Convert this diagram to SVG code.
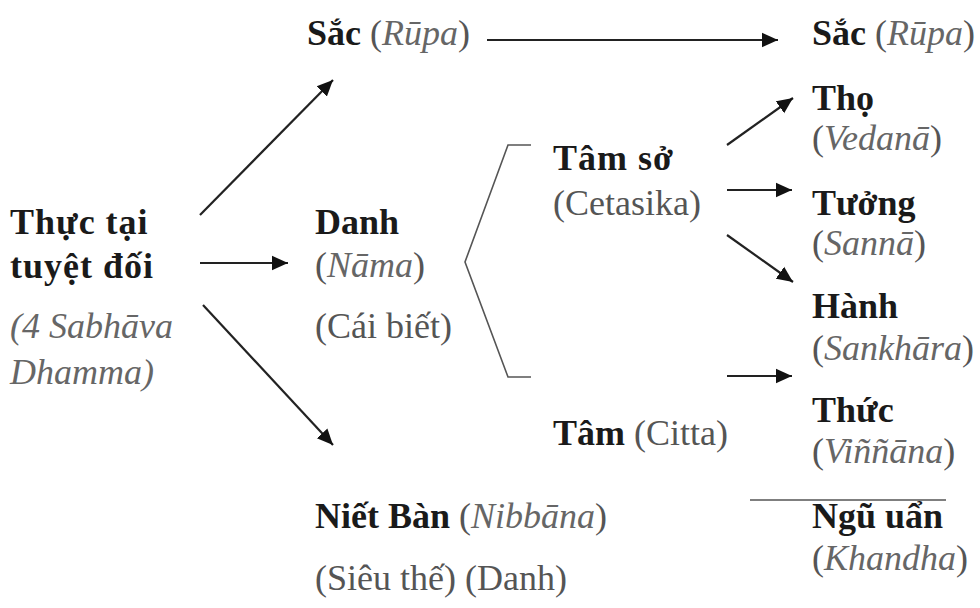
<svg xmlns="http://www.w3.org/2000/svg" width="980" height="608" viewBox="0 0 980 608">
<defs>
<style>
.t{fill:#555}
.b{font-weight:bold;fill:#1a1a1a}
.i{font-style:italic;fill:#666}
.c{stroke:#222;stroke-width:2.2;fill:none}
.thin{stroke:#555;stroke-width:1.6;fill:none}
</style>
<marker id="ah2" viewBox="0 0 10 10" refX="10" refY="5" markerWidth="16" markerHeight="16" markerUnits="userSpaceOnUse" orient="auto">
<path d="M0,0.5 L10,5 L0,9.5 z" fill="#111"/>
</marker>
</defs>
<rect width="980" height="608" fill="#fff"/>
<g id="connectors">
<line class="c" x1="200" y1="215" x2="333" y2="80" marker-end="url(#ah2)"/>
<line class="c" x1="200" y1="263" x2="288" y2="263" marker-end="url(#ah2)"/>
<line class="c" x1="203" y1="305" x2="333" y2="445" marker-end="url(#ah2)"/>
<line class="c" x1="487" y1="40" x2="778" y2="40" marker-end="url(#ah2)"/>
<line class="c" x1="727" y1="145" x2="793" y2="98" marker-end="url(#ah2)"/>
<line class="c" x1="727" y1="190" x2="792" y2="190" marker-end="url(#ah2)"/>
<line class="c" x1="727" y1="235" x2="793" y2="282" marker-end="url(#ah2)"/>
<line class="c" x1="727" y1="376" x2="792" y2="376" marker-end="url(#ah2)"/>
<polyline class="thin" points="531,145 508,145 465,262 508,377 531,377"/>
<line class="thin" x1="750" y1="500" x2="946" y2="500"/>
</g>
<g id="thuc-tai">
<text font-family="Liberation Serif" font-size="36" style="font-family:'Liberation Serif',serif;letter-spacing:1px" class="b" x="10" y="234">Thực tại</text>
<text font-family="Liberation Serif" font-size="36" style="font-family:'Liberation Serif',serif;letter-spacing:1px" class="b" x="10" y="278">tuyệt đối</text>
<text font-family="Liberation Serif" font-size="36" style="font-family:'Liberation Serif',serif" class="i" x="10" y="338">(4 Sabhāva</text>
<text font-family="Liberation Serif" font-size="36" style="font-family:'Liberation Serif',serif" class="i" x="10" y="384">Dhamma)</text>
</g>
<g id="sac-1">
<text font-family="Liberation Serif" font-size="36" style="font-family:'Liberation Serif',serif" class="t" x="307" y="45"><tspan class="b">Sắc</tspan> (<tspan class="i">Rūpa</tspan>)</text>
</g>
<g id="danh">
<text font-family="Liberation Serif" font-size="36" style="font-family:'Liberation Serif',serif" class="b" x="315" y="234">Danh</text>
<text font-family="Liberation Serif" font-size="36" style="font-family:'Liberation Serif',serif" class="t" x="315" y="277">(<tspan class="i">Nāma</tspan>)</text>
<text font-family="Liberation Serif" font-size="36" style="font-family:'Liberation Serif',serif" class="t" x="315" y="338">(Cái biết)</text>
</g>
<g id="niet-ban">
<text font-family="Liberation Serif" font-size="36" style="font-family:'Liberation Serif',serif" class="t" x="315" y="528"><tspan class="b">Niết Bàn</tspan> (<tspan class="i">Nibbāna</tspan>)</text>
<text font-family="Liberation Serif" font-size="36" style="font-family:'Liberation Serif',serif" class="t" x="315" y="590">(Siêu thế) (Danh)</text>
</g>
<g id="tam-so">
<text font-family="Liberation Serif" font-size="36" style="font-family:'Liberation Serif',serif;letter-spacing:1px" class="b" x="553" y="170">Tâm sở</text>
<text font-family="Liberation Serif" font-size="36" style="font-family:'Liberation Serif',serif" class="t" x="553" y="215">(Cetasika)</text>
</g>
<g id="tam">
<text font-family="Liberation Serif" font-size="36" style="font-family:'Liberation Serif',serif" class="t" x="553" y="445"><tspan class="b">Tâm</tspan> (Citta)</text>
</g>
<g id="sac-2">
<text font-family="Liberation Serif" font-size="36" style="font-family:'Liberation Serif',serif" class="t" x="812" y="45"><tspan class="b">Sắc</tspan> (<tspan class="i">Rūpa</tspan>)</text>
</g>
<g id="tho">
<text font-family="Liberation Serif" font-size="36" style="font-family:'Liberation Serif',serif" class="b" x="812" y="110">Thọ</text>
<text font-family="Liberation Serif" font-size="36" style="font-family:'Liberation Serif',serif" class="t" x="812" y="150">(<tspan class="i">Vedanā</tspan>)</text>
</g>
<g id="tuong">
<text font-family="Liberation Serif" font-size="36" style="font-family:'Liberation Serif',serif" class="b" x="812" y="215">Tưởng</text>
<text font-family="Liberation Serif" font-size="36" style="font-family:'Liberation Serif',serif" class="t" x="812" y="255">(<tspan class="i">Sannā</tspan>)</text>
</g>
<g id="hanh">
<text font-family="Liberation Serif" font-size="36" style="font-family:'Liberation Serif',serif" class="b" x="812" y="318">Hành</text>
<text font-family="Liberation Serif" font-size="36" style="font-family:'Liberation Serif',serif" class="t" x="812" y="360">(<tspan class="i">Sankhāra</tspan>)</text>
</g>
<g id="thuc">
<text font-family="Liberation Serif" font-size="36" style="font-family:'Liberation Serif',serif" class="b" x="812" y="422">Thức</text>
<text font-family="Liberation Serif" font-size="36" style="font-family:'Liberation Serif',serif" class="t" x="812" y="463">(<tspan class="i">Viññāna</tspan>)</text>
</g>
<g id="ngu-uan">
<text font-family="Liberation Serif" font-size="36" style="font-family:'Liberation Serif',serif" class="b" x="812" y="528">Ngũ uẩn</text>
<text font-family="Liberation Serif" font-size="36" style="font-family:'Liberation Serif',serif" class="t" x="812" y="570">(<tspan class="i">Khandha</tspan>)</text>
</g>
</svg>
